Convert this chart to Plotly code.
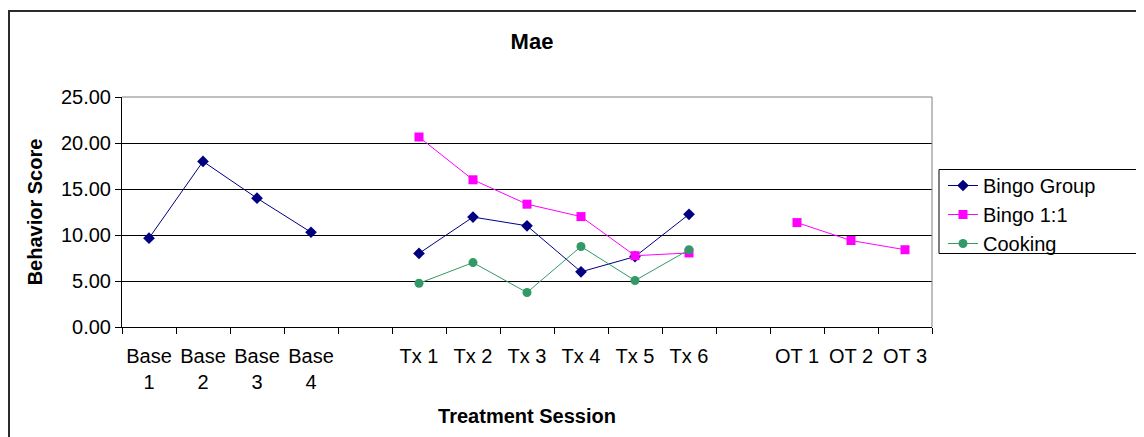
import plotly.graph_objects as go

categories = ["Base<br>1", "Base<br>2", "Base<br>3", "Base<br>4", " ",
              "Tx 1", "Tx 2", "Tx 3", "Tx 4", "Tx 5", "Tx 6", "  ",
              "OT 1", "OT 2", "OT 3"]

bingo_group = [9.65, 18.0, 14.0, 10.3, None,
               8.0, 11.95, 11.0, 6.0, 7.65, 12.25, None,
               None, None, None]
bingo_1to1 = [None, None, None, None, None,
              20.65, 16.0, 13.35, 12.0, 7.75, 8.05, None,
              11.35, 9.4, 8.4]
cooking = [None, None, None, None, None,
           4.75, 7.0, 3.75, 8.75, 5.05, 8.4, None,
           None, None, None]

y_ticks = [0, 5, 10, 15, 20, 25]

FONT = "Arial, 'Liberation Sans', sans-serif"

fig = go.Figure()
fig.add_trace(go.Scatter(x=categories, y=bingo_group, name="Bingo Group",
                         mode="lines+markers", connectgaps=False,
                         line=dict(color="#000080", width=1),
                         marker=dict(symbol="diamond", size=9, color="#000080")))
fig.add_trace(go.Scatter(x=categories, y=bingo_1to1, name="Bingo 1:1",
                         mode="lines+markers", connectgaps=False,
                         line=dict(color="#FF00FF", width=1),
                         marker=dict(symbol="square", size=9, color="#FF00FF")))
fig.add_trace(go.Scatter(x=categories, y=cooking, name="Cooking",
                         mode="lines+markers", connectgaps=False,
                         line=dict(color="#339966", width=1),
                         marker=dict(symbol="circle", size=9, color="#339966")))

# The page body has an 8px margin; work in screenshot pixels and shift.
OFF = 8
W, H = 1144 - OFF, 437 - OFF
L, R, T, B = 122 - OFF, 932 - OFF, 97 - OFF, 327 - OFF
pw, ph = R - L, B - T


def px_x(x):
    return (x - OFF - L) / pw


def px_y(y):
    return (B - (y - OFF)) / ph


fig.update_layout(
    width=W, height=H,
    margin=dict(l=L, r=W - R, t=T, b=H - B, pad=0),
    paper_bgcolor="white", plot_bgcolor="white",
    font=dict(family=FONT, size=20, color="black"),
    title=dict(text="<b>Mae</b>", x=(532 - OFF) / W, xref="container", xanchor="center",
               y=1 - (41 - OFF) / H, yref="container", yanchor="middle",
               font=dict(size=22, family=FONT, color="black")),
    showlegend=True,
    legend=dict(x=px_x(943), y=px_y(166), xanchor="left", yanchor="top",
                xref="paper", yref="paper",
                bgcolor="rgba(0,0,0,0)", borderwidth=0,
                font=dict(size=20, family=FONT, color="black"),
                tracegroupgap=0),
    xaxis=dict(type="category", categoryorder="array", categoryarray=categories,
               range=[-0.5, len(categories) - 0.5], autorange=False,
               tickson="boundaries", ticks="outside", ticklen=6, tickcolor="black",
               tickangle=0, ticklabelstandoff=11,
               showline=True, linecolor="black", linewidth=1,
               showgrid=False, zeroline=False, fixedrange=True,
               tickfont=dict(size=20, family=FONT, color="black"),
               title=dict(text="<b>Treatment Session</b>", standoff=16,
                          font=dict(size=20, family=FONT, color="black"))),
    yaxis=dict(range=[0, 25], tickvals=y_ticks, tickformat=".2f",
               ticks="outside", ticklen=6, tickcolor="black",
               showline=True, linecolor="black", linewidth=1,
               showgrid=True, gridcolor="black", gridwidth=1,
               zeroline=False, fixedrange=True,
               tickfont=dict(size=20, family=FONT, color="black"),
               title=dict(text="<b>Behavior Score</b>", standoff=12,
                          font=dict(size=20, family=FONT, color="black"))),
    shapes=[
        # outer chart border
        dict(type="rect", xref="paper", yref="paper",
             x0=px_x(9), x1=px_x(1160), y0=px_y(460), y1=px_y(11),
             line=dict(color="#2b2b2b", width=2), layer="below"),
        # plot-area top and right border (gray)
        dict(type="line", xref="paper", yref="paper", x0=0, x1=1, y0=1, y1=1,
             line=dict(color="#808080", width=1), layer="above"),
        dict(type="line", xref="paper", yref="paper", x0=1, x1=1, y0=0, y1=1,
             line=dict(color="#808080", width=1), layer="above"),
        # legend box
        dict(type="rect", xref="paper", yref="paper",
             x0=px_x(939), x1=px_x(1160), y0=px_y(253.5), y1=px_y(169.5),
             line=dict(color="black", width=1), layer="above"),
    ],
)

fig.write_html("out.html")
